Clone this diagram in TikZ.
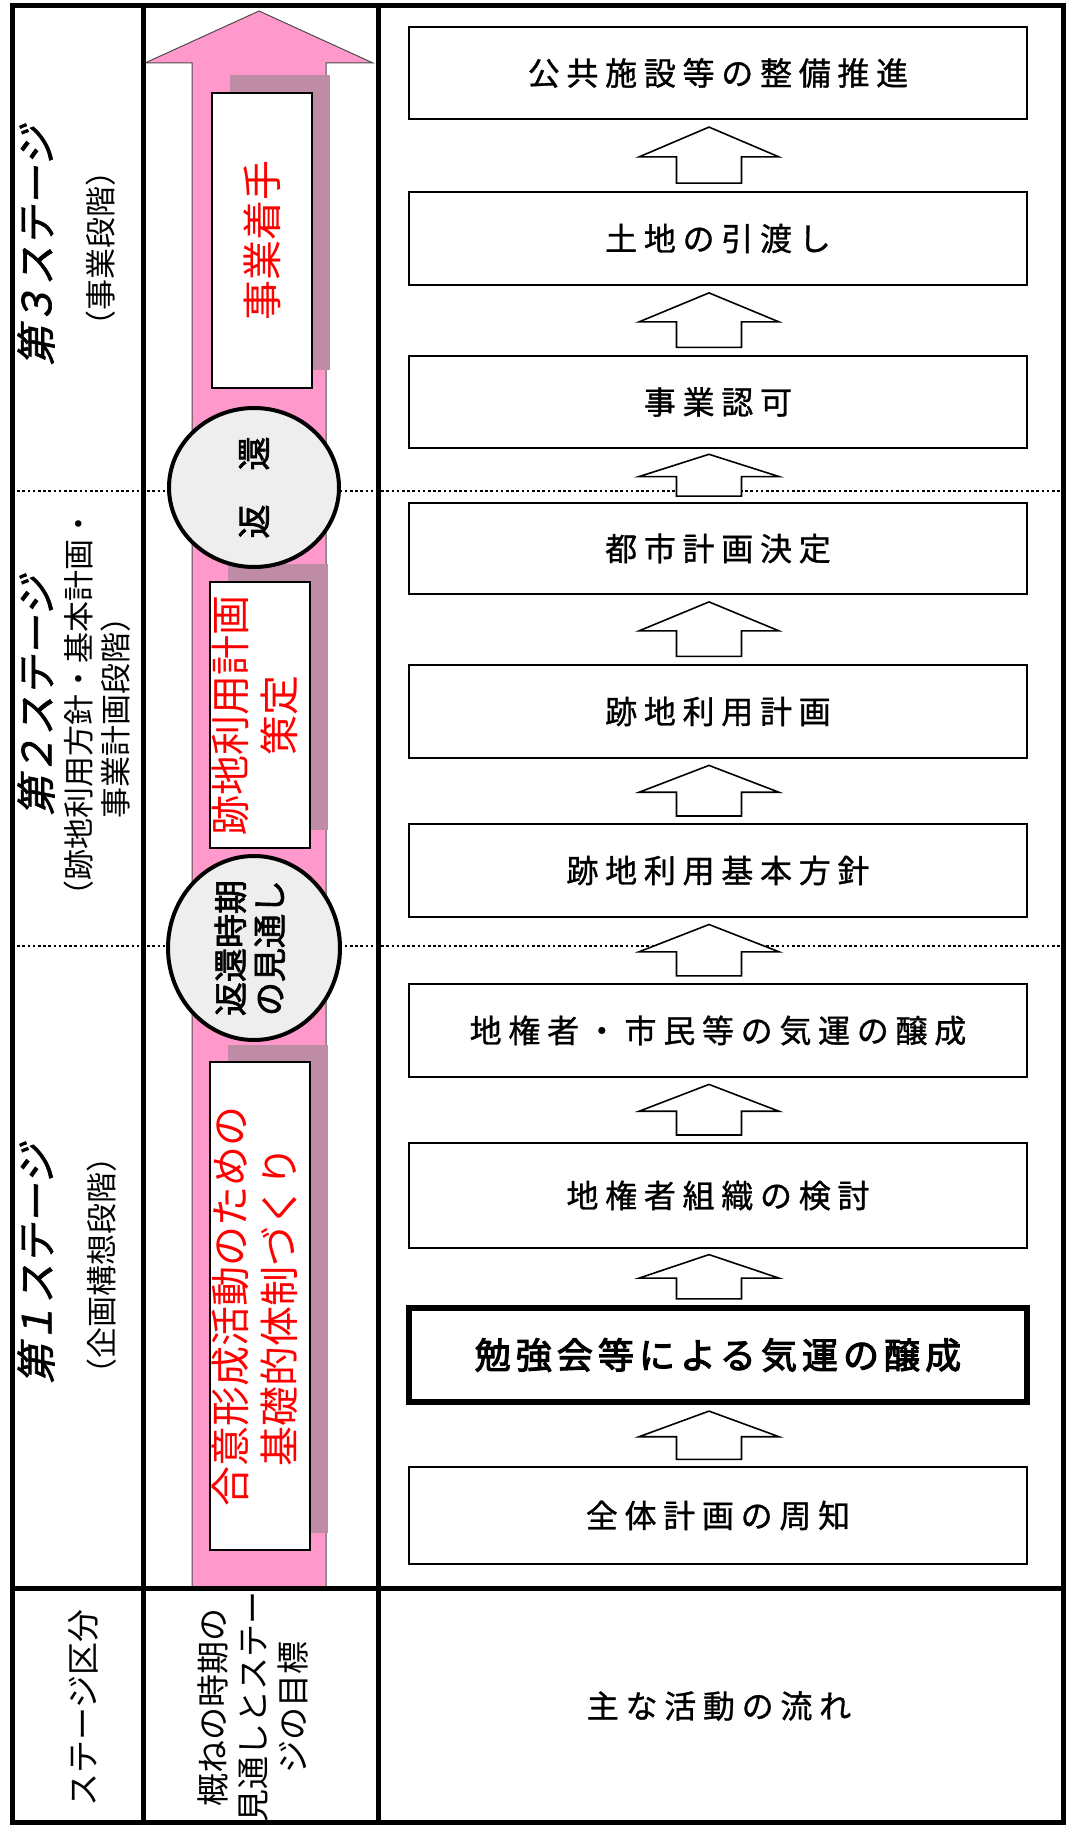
\documentclass[tikz,border=0pt]{standalone}
\usepackage{fontspec}
\setmainfont{Noto Sans CJK JP}
\newfontfamily\jpfont{Noto Sans CJK JP}
\newfontfamily\jpslant[FakeSlant=0.2, FakeBold=1.5]{Noto Sans CJK JP}
\newfontfamily\jpbold[FakeBold=2]{Noto Sans CJK JP}
\newfontfamily\jpspaced[LetterSpace=21, FakeBold=1]{Noto Sans CJK JP}
\newfontfamily\jpspacedbold[LetterSpace=14, FakeBold=3]{Noto Sans CJK JP}
\usetikzlibrary{positioning, calc, shapes.geometric}

\definecolor{goalpink}{HTML}{FF99CC}
\definecolor{goalmauve}{HTML}{BF8CA6}
\definecolor{circlegray}{HTML}{EEEEEE}

% line strut: fixes the pitch of stacked lines
\newcommand{\lsp}[1]{\rule[-.3\dimexpr #1\relax]{0pt}{#1}}
\newcommand{\flowarrow}[2]{%
  \draw[hollowarrow]
    ($(#1.north)!.11!(#2.south)+(-41.5,0)$) --
    ($(#1.north)!.11!(#2.south)+(23.5,0)$) --
    ($(#1.north)!.48!(#2.south)+(23.5,0)$) --
    ($(#1.north)!.48!(#2.south)+(61,0)$) --
    ($(#1.north)!.9!(#2.south)+(-9,0)$) --
    ($(#1.north)!.48!(#2.south)+(-79,0)$) --
    ($(#1.north)!.48!(#2.south)+(-41.5,0)$) -- cycle;}

\tikzset{
  frameline/.style={line width=2.5pt},
  stageline/.style={line width=1.3pt, dash pattern=on 1.3pt off 1.3pt},
  flowtext/.style={font=\jpspaced\fontsize{16pt}{19pt}\selectfont},
  flowbox/.style={flowtext, draw, line width=1pt, fill=white, minimum width=309pt, inner sep=0pt},
  keybox/.style={flowbox, line width=3pt, font=\jpspacedbold\fontsize{18pt}{21pt}\selectfont},
  goalshadow/.style={fill=goalmauve, minimum width=50pt, inner sep=0pt},
  goalbox/.style={rotate=90, draw, line width=1pt, fill=white, minimum height=50pt, inner sep=0pt,
    text=red, align=center, font=\jpfont\fontsize{20pt}{23pt}\selectfont},
  returncircle/.style={rotate=90, ellipse, draw, line width=2pt, fill=circlegray, inner sep=-3pt,
    align=center, font=\jpbold\fontsize{17pt}{19.5pt}\selectfont},
  hollowarrow/.style={draw, line width=0.8pt, fill=white},
  stagetitle/.style={rotate=90, font=\jpslant\fontsize{20pt}{24pt}\selectfont},
  stagenote/.style={rotate=90, align=center, font=\jpfont\fontsize{15.5pt}{18.75pt}\selectfont},
  headtext/.style={rotate=90, align=center, font=\jpfont\fontsize{16.5pt}{20pt}\selectfont}
}

\begin{document}
\begin{tikzpicture}[x=0.5pt, y=-0.5pt]
    \useasboundingbox (0,0) rectangle (1069,1825);

    % Stage borders
    \draw[stageline] (12,491) -- (1063,491);
    \draw[stageline] (12,946) -- (1063,946);

    % Goal arrow
    \draw[fill=goalpink, draw=black!70, line width=0.5pt]
        (259,11) -- (373,63) -- (326,63) -- (326,1587) -- (192,1587) -- (192,63) -- (145,63) -- cycle;

    % Goals
    \node[goalshadow, minimum height=147.5pt] (shadeA) at (280,222.5) {};
    \node[goalshadow, minimum height=133pt] (shadeB) at (278,697) {};
    \node[goalshadow, minimum height=244pt] (shadeC) at (278,1289) {};
    \node[goalbox, minimum width=147.5pt] (goalA) at (262,240.5) {事業着手};
    \node[goalbox, minimum width=133pt] (goalB) at (260,715) {\lsp{22pt}跡地利用計画\\\lsp{22pt}策定};
    \node[goalbox, minimum width=244pt] (goalC) at (260,1306) {\lsp{22pt}合意形成活動のための\\\lsp{22pt}基礎的体制づくり};

    % Return timing
    \node[returncircle, minimum width=79.5pt, minimum height=85pt] (returnA) at (254,487.5) {返　還};
    \node[returncircle, minimum width=92pt, minimum height=86pt] (returnB) at (254,948) {\lsp{18.5pt}返還時期\\\lsp{18.5pt}の見通し};

    % Activities
    \node[flowbox, minimum height=46pt] (flow1) at (718,73) {公共施設等の整備推進};
    \node[flowbox, minimum height=46.5pt] (flow2) at (718,238.5) {土地の引渡し};
    \node[flowbox, minimum height=46pt] (flow3) at (718,402) {事業認可};
    \node[flowbox, minimum height=45.5pt] (flow4) at (718,548.5) {都市計画決定};
    \node[flowbox, minimum height=46.5pt] (flow5) at (718,711.5) {跡地利用計画};
    \node[flowbox, minimum height=46.5pt] (flow6) at (718,870.5) {跡地利用基本方針};
    \node[flowbox, minimum height=46.5pt] (flow7) at (718,1030.5) {地権者・市民等の気運の醸成};
    \node[flowbox, minimum height=52.5pt] (flow8) at (718,1195.5) {地権者組織の検討};
    \node[keybox, minimum height=47pt] (flow9) at (718,1355) {勉強会等による気運の醸成};
    \node[flowbox, minimum height=48.5pt] (flow10) at (718,1515.5) {全体計画の周知};

    % Steps
    \flowarrow{flow10}{flow9}
    \flowarrow{flow9}{flow8}
    \flowarrow{flow8}{flow7}
    \flowarrow{flow7}{flow6}
    \flowarrow{flow6}{flow5}
    \flowarrow{flow5}{flow4}
    \flowarrow{flow4}{flow3}
    \flowarrow{flow3}{flow2}
    \flowarrow{flow2}{flow1}

    % Stages
    \node[stagetitle] (stage3) at (36,246) {第３ステージ};
    \node[stagenote] (note3) at (101,248) {（事業段階）};
    \node[stagetitle] (stage2) at (36,696) {第２ステージ};
    \node[stagenote] (note2) at (101,710) {\lsp{17.75pt}（跡地利用方針・基本計画・\\\lsp{17.75pt}事業計画段階）};
    \node[stagetitle] (stage1) at (36,1264) {第１ステージ};
    \node[stagenote] (note1) at (102,1265) {（企画構想段階）};

    % Header row
    \node[headtext] (headStage) at (83,1708) {ステージ区分};
    \node[headtext] (headGoal) at (257,1707) {\lsp{19pt}概ねの時期の\\\lsp{19pt}見通しとステー\\\lsp{19pt}ジの目標};
    \node[flowtext] (headFlow) at (719,1706) {主な活動の流れ};

    % Table frame
    \draw[frameline] (12,6) rectangle (1063,1822);
    \draw[frameline] (143,6) -- (143,1822);
    \draw[frameline] (378,6) -- (378,1822);
    \draw[frameline] (12,1588) -- (1063,1588);
\end{tikzpicture}
\end{document}
